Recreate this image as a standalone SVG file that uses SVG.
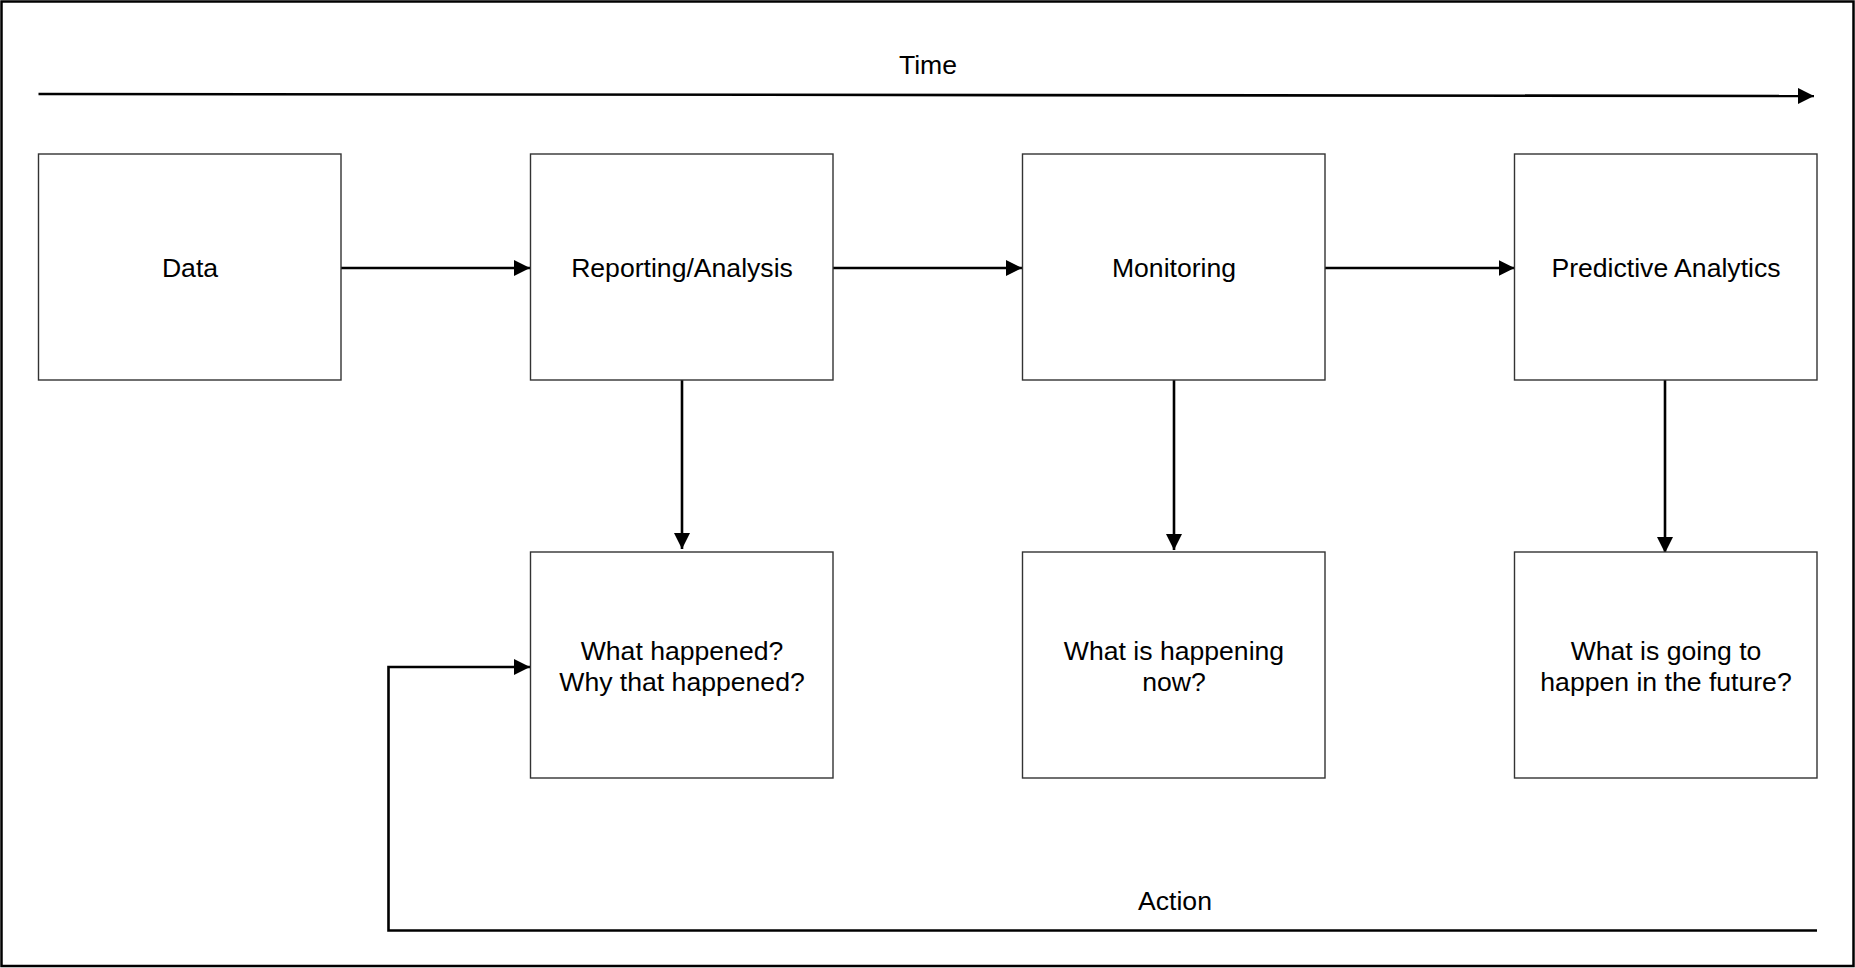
<svg xmlns="http://www.w3.org/2000/svg" width="1855" height="968" viewBox="0 0 1855 968">
  <style>
    .box { fill: #ffffff; stroke: #333333; stroke-width: 1.4; }
    .lbl { font-family: "Liberation Sans", Arial, sans-serif; font-size: 26.6px; fill: #000000; text-anchor: middle; }
    .wire { fill: none; stroke: #000000; stroke-width: 2.6; }
  </style>
  <defs>
    <marker id="arrow" viewBox="0 0 16 16" refX="16" refY="8" markerWidth="16" markerHeight="16" markerUnits="userSpaceOnUse" orient="auto">
      <path d="M0,0 L16,8 L0,16 Z" fill="#000000"/>
    </marker>
  </defs>

  <!-- page frame -->
  <rect x="1.5" y="1.5" width="1852" height="964.5" fill="#ffffff" stroke="#000000" stroke-width="2.5"/>

  <!-- time axis -->
  <g id="time-axis">
    <line class="wire" x1="38.5" y1="94" x2="1814" y2="96" marker-end="url(#arrow)"/>
    <text class="lbl" x="928" y="74">Time</text>
  </g>

  <!-- connectors -->
  <g id="connectors">
    <line class="wire" x1="341" y1="268" x2="530" y2="268" marker-end="url(#arrow)"/>
    <line class="wire" x1="833" y1="268" x2="1022" y2="268" marker-end="url(#arrow)"/>
    <line class="wire" x1="1325" y1="268" x2="1514.5" y2="268" marker-end="url(#arrow)"/>
    <line class="wire" x1="682" y1="380" x2="682" y2="549" marker-end="url(#arrow)"/>
    <line class="wire" x1="1174" y1="380" x2="1174" y2="550" marker-end="url(#arrow)"/>
    <line class="wire" x1="1665" y1="380" x2="1665" y2="553" marker-end="url(#arrow)"/>
    <path class="wire" d="M1817,930.5 L388.5,930.5 L388.5,667 L530,667" marker-end="url(#arrow)"/>
    <text class="lbl" x="1175" y="910">Action</text>
  </g>

  <!-- top row -->
  <g id="node-data">
    <rect class="box" x="38.5" y="154" width="302.5" height="226"/>
    <text class="lbl" x="190" y="276.5">Data</text>
  </g>
  <g id="node-reporting">
    <rect class="box" x="530.5" y="154" width="302.5" height="226"/>
    <text class="lbl" x="682" y="276.5">Reporting/Analysis</text>
  </g>
  <g id="node-monitoring">
    <rect class="box" x="1022.5" y="154" width="302.5" height="226"/>
    <text class="lbl" x="1174" y="276.5">Monitoring</text>
  </g>
  <g id="node-predictive">
    <rect class="box" x="1514.5" y="154" width="302.5" height="226"/>
    <text class="lbl" x="1666" y="276.5">Predictive Analytics</text>
  </g>

  <!-- bottom row -->
  <g id="node-past">
    <rect class="box" x="530.5" y="552" width="302.5" height="226"/>
    <text class="lbl" x="682" y="660">What happened?</text>
    <text class="lbl" x="682" y="691">Why that happened?</text>
  </g>
  <g id="node-present">
    <rect class="box" x="1022.5" y="552" width="302.5" height="226"/>
    <text class="lbl" x="1174" y="660">What is happening</text>
    <text class="lbl" x="1174" y="691">now?</text>
  </g>
  <g id="node-future">
    <rect class="box" x="1514.5" y="552" width="302.5" height="226"/>
    <text class="lbl" x="1666" y="660">What is going to</text>
    <text class="lbl" x="1666" y="691">happen in the future?</text>
  </g>
</svg>
